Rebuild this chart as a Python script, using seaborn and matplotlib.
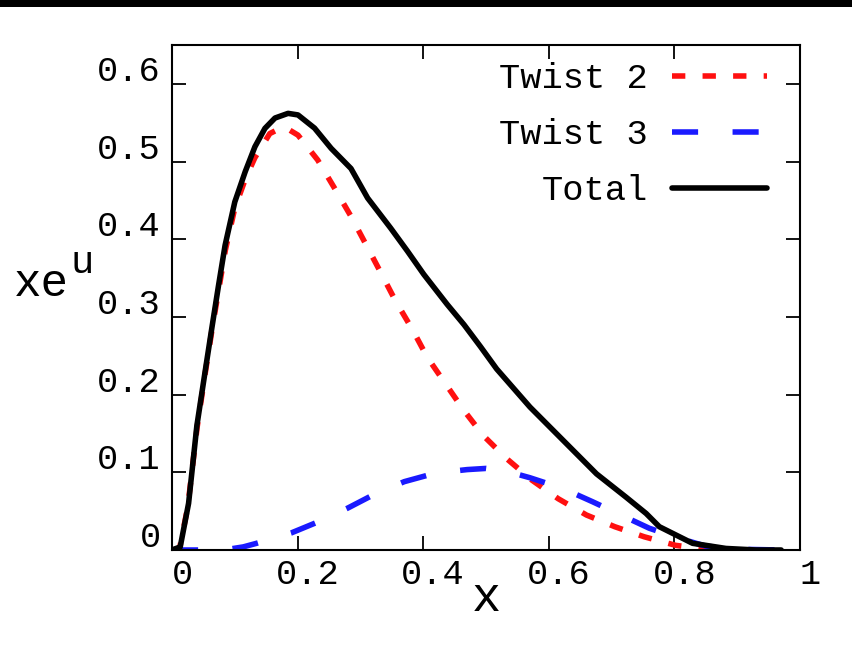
import numpy as np
import pandas as pd
import matplotlib
matplotlib.use("Agg")
import matplotlib.pyplot as plt
import matplotlib.transforms as mtransforms
from matplotlib.patches import Rectangle
import seaborn as sns

# ---- data ----
x_tw2 = [0.0, 0.012, 0.025, 0.04, 0.053, 0.064, 0.075, 0.085, 0.10, 0.117, 0.132, 0.1557,
         0.178, 0.2006, 0.232, 0.2586, 0.285, 0.309, 0.3325, 0.356, 0.3827, 0.4065, 0.4355,
         0.4645, 0.496, 0.533, 0.573, 0.615, 0.66, 0.705, 0.752, 0.802, 0.85, 0.90, 0.97]
y_tw2 = [0.0, 0.002, 0.055, 0.158, 0.228, 0.285, 0.338, 0.386, 0.44, 0.478, 0.505, 0.536,
         0.545, 0.534, 0.502, 0.466, 0.4295, 0.393, 0.357, 0.3205, 0.284, 0.248, 0.214,
         0.18, 0.147, 0.1175, 0.09, 0.066, 0.045, 0.030, 0.017, 0.006, 0.001, 0.0, 0.0]

x_tw3 = [0.0, 0.06, 0.09, 0.1135, 0.1346, 0.153, 0.19, 0.232, 0.28, 0.3246, 0.37, 0.4196,
         0.47, 0.50, 0.53, 0.57, 0.623, 0.67, 0.715, 0.76, 0.8076, 0.85, 0.90, 0.97]
y_tw3 = [0.0, 0.0, 0.001, 0.004, 0.0086, 0.013, 0.022, 0.036, 0.054, 0.0727, 0.088, 0.099,
         0.1035, 0.105, 0.102, 0.093, 0.079, 0.062, 0.045, 0.028, 0.015, 0.005, 0.001, 0.0]

x_tot = [0.0, 0.0131, 0.0264, 0.0396, 0.0528, 0.0633, 0.074, 0.0845, 0.100, 0.1166, 0.132,
         0.148, 0.164, 0.1848, 0.2006, 0.227, 0.2534, 0.285, 0.3115, 0.348, 0.375, 0.401,
         0.438, 0.465, 0.491, 0.517, 0.570, 0.623, 0.676, 0.723, 0.755, 0.776, 0.829,
         0.882, 0.93, 0.97]
y_tot = [0.0, 0.004, 0.060, 0.16, 0.23, 0.285, 0.34, 0.392, 0.448, 0.487, 0.519,
         0.5427, 0.556, 0.562, 0.560, 0.543, 0.517, 0.491, 0.453, 0.4145, 0.3846, 0.3547,
         0.3163, 0.29, 0.262, 0.233, 0.184, 0.141, 0.098, 0.068, 0.047, 0.030, 0.0086,
         0.002, 0.0, 0.0]

series_labels = ["Twist 2", "Twist 3", "Total"]
x_ticks = [0, 0.2, 0.4, 0.6, 0.8, 1.0]
x_ticklabels = ["0", "0.2", "0.4", "0.6", "0.8", "1"]
y_ticks = [0, 0.1, 0.2, 0.3, 0.4, 0.5, 0.6]
y_ticklabels = ["0", "0.1", "0.2", "0.3", "0.4", "0.5", "0.6"]

# ---- styling ----
sns.set_theme(style="ticks")
plt.rcParams["font.family"] = ["Liberation Mono", "DejaVu Sans"]

W, H = 852, 658
fig = plt.figure(figsize=(W / 100, H / 100), dpi=100)
fig.patch.set_facecolor("white")

def fx(px):
    return px / W

def fy(py):
    return 1 - py / H

ax = fig.add_axes([fx(172), fy(550), fx(800) - fx(172), fy(45) - fy(550)])
ax.set_facecolor("white")

lw = 4.0
df2 = pd.DataFrame({"x": x_tw2, "y": y_tw2})
df3 = pd.DataFrame({"x": x_tw3, "y": y_tw3})
dft = pd.DataFrame({"x": x_tot, "y": y_tot})

sns.lineplot(data=df2, x="x", y="y", ax=ax, color="#ff1010", linewidth=lw,
             linestyle=(0, (2.4, 3.1)), sort=False, estimator=None, errorbar=None,
             label=series_labels[0])
sns.lineplot(data=df3, x="x", y="y", ax=ax, color="#1a1aff", linewidth=lw,
             linestyle=(0, (4.7, 6.2)), sort=False, estimator=None, errorbar=None,
             label=series_labels[1])
sns.lineplot(data=dft, x="x", y="y", ax=ax, color="black", linewidth=lw,
             sort=False, estimator=None, errorbar=None, label=series_labels[2])

for ln in ax.lines:
    ln.set_dash_capstyle("butt")
    ln.set_solid_capstyle("round")
    ln.set_solid_joinstyle("round")

ax.set_xlim(0.004, 1.0)
ax.set_ylim(0, 0.65)
ax.set_xticks(x_ticks)
ax.set_xticklabels(x_ticklabels)
ax.set_yticks(y_ticks)
ax.set_yticklabels(y_ticklabels)
ax.set_xlabel("")
ax.set_ylabel("")

ax.tick_params(direction="in", length=10, width=1.3, top=True, right=True,
               labelsize=25.5, colors="black", pad=8)
ax.tick_params(axis="x", pad=6)
for s in ax.spines.values():
    s.set_visible(True)
    s.set_linewidth(1.5)
    s.set_color("black")

# tick-label offsets as in the reference
offx = mtransforms.ScaledTranslation(0.10, 0, fig.dpi_scale_trans)
for lab in ax.get_xticklabels():
    lab.set_transform(lab.get_transform() + offx)
offy = mtransforms.ScaledTranslation(0, 0.16, fig.dpi_scale_trans)
for lab in ax.get_yticklabels():
    lab.set_transform(lab.get_transform() + offy)

# axis labels
fig.text(fx(486), fy(611), "x", ha="center", va="baseline", fontsize=35, color="black")
fig.text(fx(14), fy(296), "xe", ha="left", va="baseline", fontsize=33, color="black")
fig.text(fx(70), fy(273), "u", ha="left", va="baseline", fontsize=28, color="black")

leg = ax.legend(loc="upper right", bbox_to_anchor=(fx(767), fy(62)),
                bbox_transform=fig.transFigure, frameon=False, markerfirst=False,
                fontsize=25.5, handlelength=2.68, handletextpad=0.68,
                labelspacing=0.65, borderpad=0, borderaxespad=0)
for t in leg.get_texts():
    t.set_color("black")

# black strip at top
fig.add_artist(Rectangle((0, fy(7)), 1, 1 - fy(7), transform=fig.transFigure,
                         facecolor="black", edgecolor="none"))

fig.savefig("out.png", dpi=100, facecolor="white")
